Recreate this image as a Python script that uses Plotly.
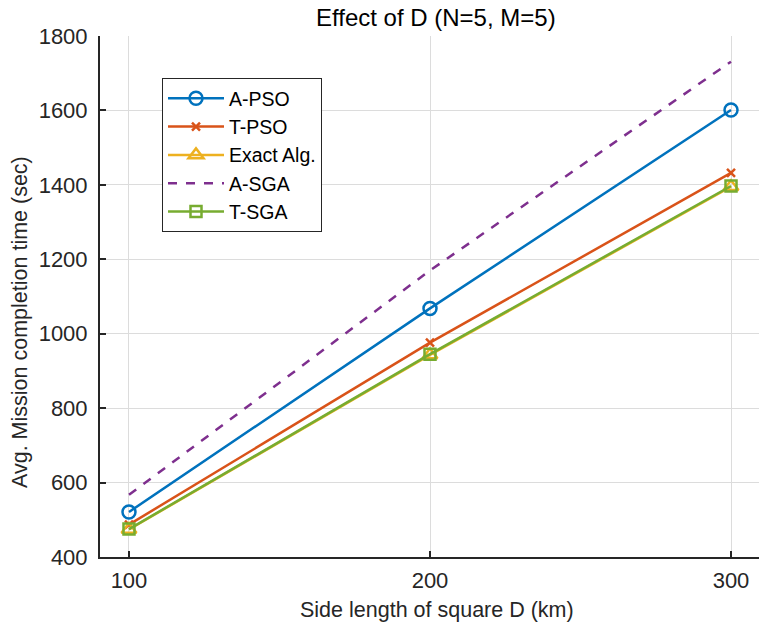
import plotly.graph_objects as go

D = [100, 200, 300]
a_pso = [521, 1068, 1601]
t_pso = [487, 976, 1432]
exact = [474, 943, 1395]
a_sga = [567, 1170, 1731]
t_sga = [475, 945, 1397]

names = ["A-PSO", "T-PSO", "Exact Alg.", "A-SGA", "T-SGA"]
colors = ["#0072BD", "#D95319", "#EDB120", "#7E2F8E", "#77AC30"]

FONT = "Liberation Sans, Arial"
fig = go.Figure()
series = [a_pso, t_pso, exact, a_sga, t_sga]
markers = [
    dict(symbol="circle-open", size=13, line=dict(width=2.5)),
    dict(symbol="x-thin-open", size=8, line=dict(width=2.5)),
    dict(symbol="triangle-up-open", size=13, line=dict(width=2.5)),
    None,
    dict(symbol="square-open", size=11, line=dict(width=2.5)),
]
for name, ys, col, mk in zip(names, series, colors, markers):
    if mk is None:
        fig.add_trace(go.Scatter(x=D, y=ys, name=name, mode="lines",
                                 line=dict(color=col, width=2.5, dash="dash")))
    else:
        mk = dict(mk)
        mk["color"] = col
        mk["line"] = dict(mk["line"], color=col)
        fig.add_trace(go.Scatter(x=D, y=ys, name=name, mode="lines+markers",
                                 line=dict(color=col, width=2.5), marker=mk))

axis_common = dict(
    showgrid=True, gridcolor="#dcdcdc", gridwidth=1,
    showline=True, linecolor="#262626", linewidth=2,
    ticks="inside", ticklen=6, tickcolor="#262626", tickwidth=1.5,
    tickfont=dict(family=FONT, size=22, color="#262626"),
    zeroline=False,
)

L, T, B = 100, 36, 76
W, H = 759, 633
pw = W - L
ph = H - T - B

fig.update_layout(
    width=W, height=H,
    margin=dict(l=L, r=0, t=T, b=B),
    paper_bgcolor="white", plot_bgcolor="white",
    xaxis=dict(axis_common, range=[90.37, 309.3], tickvals=D, ticklabelstandoff=3),
    yaxis=dict(axis_common, range=[400, 1800], tickvals=list(range(400, 1801, 200)),
               ticklabelstandoff=6),
    legend=dict(x=(162 - L) / pw, y=(H - B - 78) / ph, xanchor="left", yanchor="top",
                bgcolor="white", bordercolor="#262626", borderwidth=1,
                font=dict(family=FONT, size=19.5, color="#000000"),
                itemwidth=56, tracegroupgap=0),
    showlegend=True,
    annotations=[
        dict(text="Effect of D (N=5, M=5)", xref="paper", yref="paper",
             x=(436 - L) / pw, y=(H - B - 17) / ph, xanchor="center", yanchor="middle",
             showarrow=False, font=dict(family=FONT, size=24, color="#000000")),
        dict(text="Side length of square D (km)", xref="paper", yref="paper",
             x=(437 - L) / pw, y=(H - B - 610) / ph, xanchor="center", yanchor="middle",
             showarrow=False, font=dict(family=FONT, size=21.5, color="#262626")),
        dict(text="Avg. Mission completion time (sec)", xref="paper", yref="paper",
             x=(20 - L) / pw, y=(H - B - 322) / ph, xanchor="center", yanchor="middle",
             textangle=-90, showarrow=False,
             font=dict(family=FONT, size=21.5, color="#262626")),
    ],
)

fig.write_html("out.html")
